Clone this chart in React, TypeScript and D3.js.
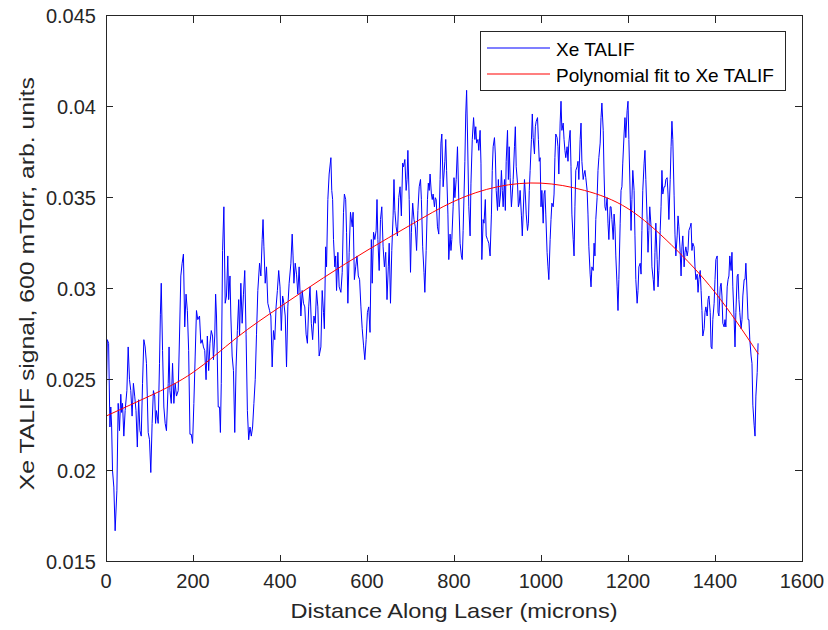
import React, { useEffect, useRef } from 'react';
import * as d3 from 'd3';

// Xe TALIF signal (distance in microns, signal in arb. units)
const distance = [
  0, 3, 6, 9, 11, 13, 15, 18, 21, 25, 28, 31, 34, 36, 38, 41, 44, 48, 51, 54, 57, 60, 63, 66, 69, 72, 75, 78, 81, 84, 87, 90, 93, 97,
  100, 103, 106, 109, 112, 114, 116, 120, 123, 125, 127, 130, 133, 136, 139, 143, 145, 147, 150, 153, 156, 159, 162, 166, 169, 172, 175, 178,
  181, 184, 187, 190, 193, 196, 199, 202, 205, 208, 211, 215, 218, 221, 224, 227, 230, 233, 236, 239, 242, 245, 247, 250, 252, 254, 258,
  261, 263, 265, 268, 271, 274, 277, 280, 282, 285, 287, 290, 293, 296, 299, 302, 305, 307, 310, 313, 316, 319, 322, 325, 328, 331, 334,
  337, 340, 343, 346, 349, 353, 356, 359, 361, 363, 366, 369, 372, 376, 379, 382, 385, 388, 391, 394, 397, 400, 403, 406, 409, 412, 415,
  418, 421, 425, 428, 430, 432, 435, 438, 441, 444, 448, 451, 454, 457, 460, 463, 466, 469, 472, 475, 478, 481, 484, 487, 490, 494, 497,
  500, 502, 505, 507, 510, 513, 517, 519, 521, 523, 526, 528, 530, 533, 536, 540, 543, 546, 548, 551, 553, 556, 559, 562, 566, 568, 571,
  574, 577, 580, 583, 586, 589, 592, 595, 598, 601, 604, 607, 610, 612, 615, 618, 621, 623, 625, 628, 631, 634, 637, 640, 643, 646, 649,
  651, 654, 657, 660, 662, 664, 667, 670, 673, 676, 679, 682, 684, 687, 690, 692, 694, 697, 700, 702, 705, 708, 711, 714, 717, 720, 723,
  725, 728, 731, 733, 736, 739, 741, 743, 745, 748, 750, 752, 755, 757, 759, 762, 765, 768, 770, 772, 775, 779, 781, 783, 786, 788, 791,
  793, 795, 798, 800, 802, 805, 808, 811, 814, 817, 819, 821, 825, 827, 829, 831, 834, 837, 839, 842, 845, 848, 850, 852, 855, 857, 860,
  862, 864, 867, 869, 872, 874, 877, 880, 883, 886, 888, 890, 893, 895, 897, 900, 902, 904, 907, 909, 911, 913, 916, 918, 920, 923, 925,
  927, 929, 932, 934, 936, 939, 941, 943, 946, 948, 950, 952, 955, 957, 959, 962, 964, 966, 969, 971, 973, 975, 978, 980, 982, 985, 987,
  989, 992, 994, 996, 998, 1000, 1002, 1005, 1007, 1009, 1011, 1014, 1016, 1018, 1021, 1023, 1025, 1028, 1030, 1032, 1034, 1037, 1039,
  1041, 1044, 1046, 1048, 1051, 1053, 1055, 1057, 1060, 1062, 1064, 1067, 1069, 1071, 1074, 1076, 1078, 1080, 1083, 1085, 1087, 1090,
  1092, 1094, 1097, 1099, 1101, 1103, 1106, 1108, 1110, 1113, 1115, 1117, 1120, 1122, 1124, 1126, 1129, 1131, 1133, 1136, 1138, 1140,
  1143, 1145, 1147, 1149, 1152, 1154, 1156, 1159, 1161, 1163, 1166, 1168, 1170, 1172, 1175, 1177, 1179, 1182, 1184, 1186, 1188, 1191,
  1193, 1195, 1198, 1200, 1202, 1205, 1207, 1209, 1211, 1214, 1216, 1218, 1221, 1223, 1225, 1228, 1230, 1232, 1234, 1237, 1239, 1241,
  1244, 1246, 1248, 1250, 1253, 1255, 1258, 1260, 1262, 1264, 1267, 1269, 1271, 1274, 1276, 1278, 1280, 1283, 1285, 1287, 1290, 1292,
  1294, 1297, 1299, 1301, 1303, 1306, 1308, 1310, 1313, 1315, 1317, 1320, 1322, 1324, 1326, 1329, 1331, 1333, 1336, 1338, 1340, 1343,
  1345, 1347, 1349, 1352, 1354, 1356, 1359, 1361, 1363, 1366, 1368, 1370, 1372, 1375, 1377, 1379, 1382, 1384, 1386, 1389, 1391, 1393,
  1395, 1398, 1400, 1402, 1405, 1407, 1409, 1412, 1414, 1416, 1418, 1421, 1423, 1425, 1428, 1430, 1432, 1434, 1437, 1439, 1441, 1444,
  1446, 1448, 1451, 1453, 1455, 1457, 1460, 1462, 1464, 1467, 1469, 1471, 1474, 1476, 1478, 1480, 1483, 1485, 1487, 1490, 1492, 1494,
  1497, 1499,
];

const signal = [
  .0230, .0272, .0270, .0224, .0235, .0224, .0200, .0191, .0167, .0189, .0237, .0222, .0242, .0232, .0237, .0219, .0233, .0244, .0268, .0250, .0244, .0230, .0248, .0241, .0233, .0213, .0239, .0222, .0219, .0248, .0272, .0268, .0259, .0221,
  .0217, .0199, .0226, .0244, .0241, .0226, .0233, .0226, .0259, .0286, .0303, .0266, .0235, .0226, .0222, .0248, .0268, .0244, .0237, .0259, .0237, .0248, .0241, .0244, .0274, .0307, .0314, .0319,
  .0279, .0297, .0288, .0266, .0220, .0220, .0215, .0237, .0263, .0288, .0283, .0285, .0270, .0272, .0268, .0266, .0250, .0274, .0255, .0270, .0277, .0274, .0261, .0274, .0297, .0285, .0235,
  .0235, .0221, .0248, .0321, .0345, .0292, .0296, .0318, .0294, .0307, .0285, .0263, .0255, .0221, .0257, .0277, .0294, .0274, .0303, .0281, .0297, .0310, .0275, .0233, .0217, .0224, .0219,
  .0224, .0237, .0250, .0275, .0299, .0314, .0307, .0327, .0338, .0323, .0303, .0312, .0292, .0288, .0285, .0257, .0277, .0272, .0290, .0299, .0310, .0301, .0277, .0296, .0292, .0285, .0257,
  .0290, .0303, .0314, .0330, .0318, .0303, .0314, .0308, .0297, .0312, .0285, .0299, .0292, .0290, .0275, .0270, .0290, .0301, .0281, .0272, .0285, .0281, .0299, .0290, .0263, .0268, .0299,
  .0287, .0278, .0323, .0312, .0349, .0363, .0372, .0354, .0349, .0327, .0312, .0318, .0299, .0320, .0301, .0298, .0309, .0342, .0352, .0349, .0331, .0292, .0320, .0342, .0334, .0342, .0305,
  .0312, .0318, .0307, .0305, .0290, .0278, .0269, .0261, .0272, .0287, .0290, .0276, .0327, .0303, .0331, .0327, .0332, .0349, .0327, .0310, .0338, .0345, .0323, .0312, .0320, .0294, .0312,
  .0325, .0292, .0321, .0340, .0360, .0343, .0334, .0329, .0350, .0356, .0340, .0369, .0367, .0371, .0354, .0360, .0376, .0349, .0309, .0331, .0347, .0338, .0334, .0321, .0343, .0356, .0360,
  .0349, .0323, .0309, .0298, .0321, .0349, .0358, .0354, .0363, .0352, .0349, .0352, .0345, .0350, .0349, .0334, .0330, .0360, .0380, .0385, .0356, .0370, .0382, .0365, .0341, .0316, .0330,
  .0321, .0327, .0345, .0361, .0350, .0360, .0378, .0349, .0325, .0318, .0316, .0332, .0370, .0396, .0409, .0385, .0345, .0329, .0358, .0382, .0394, .0382, .0389, .0380, .0382, .0376, .0387,
  .0369, .0316, .0338, .0336, .0349, .0329, .0327, .0325, .0318, .0341, .0365, .0378, .0383, .0374, .0354, .0343, .0360, .0345, .0352, .0365, .0354, .0345, .0360, .0343, .0370, .0387, .0360,
  .0378, .0361, .0345, .0352, .0360, .0378, .0389, .0367, .0358, .0345, .0347, .0354, .0340, .0329, .0341, .0360, .0352, .0341, .0332, .0336, .0354, .0365, .0382, .0396, .0383, .0374, .0389,
  .0392, .0394, .0382, .0370, .0372, .0345, .0354, .0336, .0352, .0354, .0341, .0320, .0312, .0305, .0327, .0338, .0347, .0345, .0352, .0372, .0385, .0383, .0378,
  .0363, .0391, .0403, .0387, .0391, .0382, .0376, .0372, .0378, .0370, .0380, .0387, .0367, .0341, .0327, .0318, .0345, .0365, .0367, .0370, .0360, .0382,
  .0391, .0370, .0360, .0363, .0365, .0361, .0354, .0341, .0323, .0308, .0301, .0312, .0310, .0325, .0318, .0338, .0350, .0365, .0372, .0380, .0394, .0402,
  .0387, .0363, .0345, .0343, .0350, .0336, .0327, .0345, .0345, .0338, .0327, .0341, .0334, .0318, .0301, .0288, .0305, .0336, .0354, .0356, .0369, .0385,
  .0394, .0383, .0398, .0403, .0382, .0352, .0332, .0349, .0365, .0354, .0329, .0305, .0292, .0299, .0312, .0314, .0308, .0332, .0354, .0369, .0376, .0360,
  .0338, .0320, .0332, .0345, .0334, .0312, .0305, .0299, .0320, .0336, .0316, .0301, .0310, .0332, .0345, .0365, .0352, .0356, .0356, .0360, .0361, .0352,
  .0338, .0360, .0378, .0392, .0382, .0351, .0330, .0318, .0329, .0340, .0334, .0320, .0307, .0323, .0329, .0312, .0320, .0323, .0318, .0321, .0332, .0334,
  .0336, .0321, .0325, .0323, .0312, .0305, .0308, .0298, .0305, .0310, .0299, .0288, .0274, .0278, .0287, .0290, .0285, .0294, .0296, .0287, .0268, .0267,
  .0283, .0292, .0305, .0316, .0318, .0287, .0285, .0301, .0303, .0296, .0281, .0279, .0283, .0279, .0301, .0305, .0307, .0318, .0310, .0320, .0301, .0283,
  .0268, .0287, .0307, .0308, .0294, .0287, .0278, .0283, .0296, .0305, .0305, .0314, .0296, .0283, .0283, .0272, .0263, .0259, .0236, .0225, .0219, .0241,
  .0254, .0270,
];

// polynomial fit, read every 100 microns
const fitDistance = [0, 100, 200, 300, 400, 500, 600, 700, 800, 900, 1000, 1100, 1200, 1300, 1400, 1500];
const fitSignal = [.0230, .0241, .0254, .0273, .0290, .0306, .0321, .0335, .0348, .0356, .0358, .0354, .0344, .0324, .0298, .0264];

const xTicks = [0, 200, 400, 600, 800, 1000, 1200, 1400, 1600];
const yTicks = [0.015, 0.02, 0.025, 0.03, 0.035, 0.04, 0.045];
const yTickLabels = ['0.015', '0.02', '0.025', '0.03', '0.035', '0.04', '0.045'];
const legendLabels = ['Xe TALIF', 'Polynomial fit to Xe TALIF'];
const legendColors = ['#0000ff', '#ff0000'];

const W = 828;
const H = 630;
const FONT = '"Liberation Sans", Arial, Helvetica, sans-serif';
const AX = '#262626';

export default function App() {
  const ref = useRef<SVGSVGElement>(null);

  useEffect(() => {
    const svg = d3.select(ref.current);
    svg.selectAll('*').remove();

    const left = 106, right = 802, top = 15.7, bottom = 561.7;
    const x = d3.scaleLinear().domain([0, 1600]).range([left, right]);
    const y = d3.scaleLinear().domain([0.015, 0.045]).range([bottom, top]);

    svg.append('rect').attr('width', W).attr('height', H).attr('fill', '#fff');

    svg.append('clipPath').attr('id', 'plot-clip')
      .append('rect').attr('x', left).attr('y', top).attr('width', right - left).attr('height', bottom - top);

    const plot = svg.append('g').attr('clip-path', 'url(#plot-clip)');

    const raw = distance.map((d, i) => [d, signal[i]] as [number, number]);
    const fit = fitDistance.map((d, i) => [d, fitSignal[i]] as [number, number]);

    const rawLine = d3.line<[number, number]>().x(d => x(d[0])).y(d => y(d[1]));
    const fitLine = d3.line<[number, number]>().x(d => x(d[0])).y(d => y(d[1])).curve(d3.curveNatural);

    plot.append('path')
      .datum(raw)
      .attr('d', rawLine)
      .attr('fill', 'none')
      .attr('stroke', legendColors[0])
      .attr('stroke-width', 1)
      .attr('stroke-linejoin', 'round');

    plot.append('path')
      .datum(fit)
      .attr('d', fitLine)
      .attr('fill', 'none')
      .attr('stroke', legendColors[1])
      .attr('stroke-width', 1);

    // frame with inward ticks on every side
    const frame = svg.append('g').attr('stroke', AX).attr('stroke-width', 1).attr('shape-rendering', 'crispEdges');
    frame.append('rect').attr('x', left).attr('y', top).attr('width', right - left).attr('height', bottom - top).attr('fill', 'none');
    const tl = 7;
    xTicks.forEach(t => {
      frame.append('line').attr('x1', x(t)).attr('x2', x(t)).attr('y1', bottom).attr('y2', bottom - tl);
      frame.append('line').attr('x1', x(t)).attr('x2', x(t)).attr('y1', top).attr('y2', top + tl);
    });
    yTicks.forEach(t => {
      frame.append('line').attr('x1', left).attr('x2', left + tl).attr('y1', y(t)).attr('y2', y(t));
      frame.append('line').attr('x1', right).attr('x2', right - tl).attr('y1', y(t)).attr('y2', y(t));
    });

    const labels = svg.append('g').attr('font-family', FONT).attr('fill', AX);
    labels.selectAll('.xt').data(xTicks).enter().append('text')
      .attr('x', d => x(d)).attr('y', 588)
      .attr('text-anchor', 'middle').attr('font-size', 20)
      .text(d => String(d));
    labels.selectAll('.yt').data(yTicks).enter().append('text')
      .attr('x', 96).attr('y', d => y(d)).attr('dy', '0.35em')
      .attr('text-anchor', 'end').attr('font-size', 20)
      .text((d, i) => yTickLabels[i]);

    labels.append('text')
      .attr('x', (left + right) / 2).attr('y', 618)
      .attr('text-anchor', 'middle').attr('font-size', 21)
      .attr('textLength', 327).attr('lengthAdjust', 'spacingAndGlyphs')
      .text('Distance Along Laser (microns)');

    labels.append('text')
      .attr('transform', `translate(33.5, ${(top + bottom) / 2 - 5}) rotate(-90)`)
      .attr('text-anchor', 'middle').attr('font-size', 21)
      .attr('textLength', 413).attr('lengthAdjust', 'spacingAndGlyphs')
      .text('Xe TALIF signal, 600 mTorr, arb. units');

    // legend
    const lg = svg.append('g');
    lg.append('rect')
      .attr('x', 480).attr('y', 31.5).attr('width', 305).attr('height', 58.5)
      .attr('fill', '#fff').attr('stroke', AX).attr('stroke-width', 1).attr('shape-rendering', 'crispEdges');
    legendLabels.forEach((name, i) => {
      const cy = 48 + i * 26;
      lg.append('line')
        .attr('x1', 487).attr('x2', 550).attr('y1', cy).attr('y2', cy)
        .attr('stroke', legendColors[i]).attr('stroke-width', 1.2);
      lg.append('text')
        .attr('x', 556).attr('y', cy + 7.5)
        .attr('font-family', FONT).attr('font-size', 19).attr('fill', '#000')
        .text(name);
    });
  }, []);

  return (
    <svg ref={ref} width={W} height={H}
      style={{ position: 'absolute', left: 0, top: 0, display: 'block' }} />
  );
}
